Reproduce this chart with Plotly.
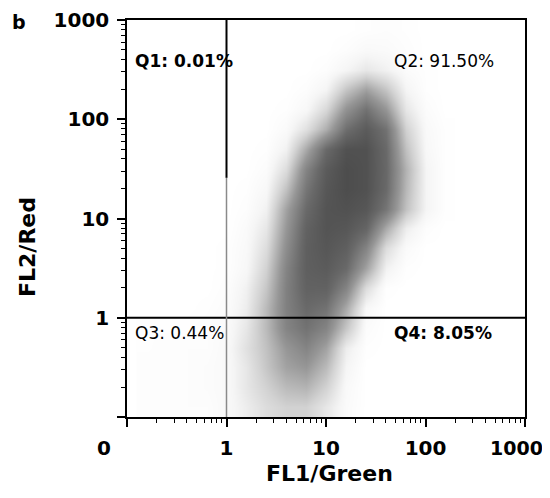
import plotly.graph_objects as go

# ---- data ----
# density grid (relative 0..1) of the event cloud, in log10 units
x_log_centers = [-0.8, -0.6, -0.4, -0.2, 0.0, 0.2, 0.4, 0.6, 0.8, 1.0, 1.2, 1.4, 1.6, 1.8, 2.0, 2.2]
y_log_centers = [-0.9, -0.7, -0.5, -0.3, -0.1, 0.1, 0.3, 0.5, 0.7, 0.9,
                 1.1, 1.3, 1.5, 1.7, 1.9, 2.1, 2.3, 2.5, 2.7, 2.9]
density = [
    # -0.8 -0.6 -0.4 -0.2  0.0   0.2   0.4   0.6   0.8   1.0   1.2   1.4   1.6   1.8   2.0   2.2
    [0.02, 0.02, 0.02, 0.02, 0.05, 0.12, 0.20, 0.25, 0.25, 0.15, 0.04, 0.00, 0.00, 0.00, 0.00, 0.00],  # -0.9
    [0.02, 0.02, 0.02, 0.03, 0.05, 0.15, 0.25, 0.35, 0.38, 0.25, 0.05, 0.00, 0.00, 0.00, 0.00, 0.00],  # -0.7
    [0.02, 0.02, 0.02, 0.03, 0.05, 0.15, 0.30, 0.45, 0.50, 0.35, 0.08, 0.00, 0.00, 0.00, 0.00, 0.00],  # -0.5
    [0.01, 0.02, 0.02, 0.02, 0.05, 0.18, 0.32, 0.50, 0.60, 0.45, 0.12, 0.01, 0.00, 0.00, 0.00, 0.00],  # -0.3
    [0.01, 0.01, 0.01, 0.02, 0.04, 0.15, 0.35, 0.60, 0.70, 0.60, 0.30, 0.03, 0.00, 0.00, 0.00, 0.00],  # -0.1
    [0.00, 0.00, 0.00, 0.01, 0.03, 0.12, 0.35, 0.62, 0.75, 0.70, 0.42, 0.06, 0.00, 0.00, 0.00, 0.00],  # 0.1
    [0.00, 0.00, 0.00, 0.00, 0.02, 0.10, 0.30, 0.62, 0.80, 0.80, 0.60, 0.20, 0.01, 0.00, 0.00, 0.00],  # 0.3
    [0.00, 0.00, 0.00, 0.00, 0.01, 0.06, 0.25, 0.60, 0.82, 0.85, 0.75, 0.45, 0.10, 0.01, 0.00, 0.00],  # 0.5
    [0.00, 0.00, 0.00, 0.00, 0.01, 0.05, 0.20, 0.55, 0.82, 0.88, 0.82, 0.60, 0.20, 0.04, 0.00, 0.00],  # 0.7
    [0.00, 0.00, 0.00, 0.00, 0.00, 0.04, 0.15, 0.50, 0.80, 0.90, 0.88, 0.78, 0.42, 0.12, 0.02, 0.00],  # 0.9
    [0.00, 0.00, 0.00, 0.00, 0.00, 0.02, 0.10, 0.45, 0.75, 0.90, 0.92, 0.88, 0.68, 0.32, 0.08, 0.01],  # 1.1
    [0.00, 0.00, 0.00, 0.00, 0.00, 0.01, 0.06, 0.32, 0.68, 0.88, 0.95, 0.92, 0.75, 0.36, 0.08, 0.01],  # 1.3
    [0.00, 0.00, 0.00, 0.00, 0.00, 0.00, 0.03, 0.20, 0.60, 0.85, 0.95, 0.92, 0.76, 0.38, 0.08, 0.01],  # 1.5
    [0.00, 0.00, 0.00, 0.00, 0.00, 0.00, 0.01, 0.10, 0.42, 0.75, 0.92, 0.92, 0.75, 0.32, 0.06, 0.01],  # 1.7
    [0.00, 0.00, 0.00, 0.00, 0.00, 0.00, 0.00, 0.04, 0.18, 0.40, 0.72, 0.85, 0.70, 0.25, 0.05, 0.01],  # 1.9
    [0.00, 0.00, 0.00, 0.00, 0.00, 0.00, 0.00, 0.01, 0.06, 0.22, 0.52, 0.70, 0.50, 0.15, 0.03, 0.00],  # 2.1
    [0.00, 0.00, 0.00, 0.00, 0.00, 0.00, 0.00, 0.00, 0.02, 0.08, 0.30, 0.45, 0.30, 0.08, 0.01, 0.00],  # 2.3
    [0.00, 0.00, 0.00, 0.00, 0.00, 0.00, 0.00, 0.00, 0.00, 0.02, 0.08, 0.15, 0.10, 0.03, 0.01, 0.00],  # 2.5
    [0.00, 0.00, 0.00, 0.00, 0.00, 0.00, 0.00, 0.00, 0.00, 0.00, 0.02, 0.05, 0.04, 0.02, 0.00, 0.00],  # 2.7
    [0.00, 0.00, 0.00, 0.00, 0.00, 0.00, 0.00, 0.00, 0.00, 0.00, 0.00, 0.01, 0.02, 0.01, 0.00, 0.00],  # 2.9
]

quadrant_labels = ["Q1: 0.01%", "Q2: 91.50%", "Q3: 0.44%", "Q4: 8.05%"]
gate_x = 1
gate_y = 1
gate_dark_from_y = 25.7   # upper part of the vertical gate line is drawn darker

tick_vals = [0.1, 1, 10, 100, 1000]
x_tick_text = ["", "1", "10", "100", ""]   # "0" and "1000" are placed as annotations below
x_edge_labels = ["0", "1000"]
y_tick_text = ["", "1", "10", "100", "1000"]
minor_vals = [m * d for d in [0.1, 1, 10, 100] for m in range(2, 10)]

x_title = "FL1/Green"
y_title = "FL2/Red"
panel_letter = "b"

FONT = "DejaVu Sans"

fig = go.Figure()

fig.add_trace(go.Heatmap(
    x=[10 ** v for v in x_log_centers],
    y=[10 ** v for v in y_log_centers],
    z=density,
    zmin=0, zmax=1,
    zsmooth="best",
    colorscale=[[0, "rgb(255,255,255)"], [0.08, "rgb(245,245,245)"], [0.25, "rgb(210,210,210)"],
                [0.5, "rgb(150,150,150)"], [0.75, "rgb(105,105,105)"], [1, "rgb(70,70,70)"]],
    showscale=False,
    hoverinfo="skip",
))

# gate lines
fig.add_trace(go.Scatter(x=[0.1, 1000], y=[gate_y, gate_y], mode="lines",
                         line=dict(color="black", width=2), showlegend=False, hoverinfo="skip"))
fig.add_trace(go.Scatter(x=[gate_x, gate_x], y=[0.1, gate_dark_from_y], mode="lines",
                         line=dict(color="#8a8a8a", width=1.5), showlegend=False, hoverinfo="skip"))
fig.add_trace(go.Scatter(x=[gate_x, gate_x], y=[gate_dark_from_y, 1000], mode="lines",
                         line=dict(color="black", width=2), showlegend=False, hoverinfo="skip"))

axis_common = dict(
    type="log", range=[-1, 3], automargin=False,
    showgrid=False, zeroline=False,
    showline=True, linecolor="black", linewidth=1.5, mirror=True,
    ticks="outside", ticklen=8, tickwidth=1.5, tickcolor="black",
    tickmode="array", tickvals=tick_vals,
    tickfont=dict(family=FONT, size=20, color="black", weight="bold"),
    minor=dict(tickmode="array", tickvals=minor_vals, ticks="outside",
               ticklen=4, tickwidth=1, tickcolor="black"),
    ticklabeloverflow="allow",
)

fig.update_xaxes(**axis_common, ticktext=x_tick_text, ticklabelstandoff=4)
fig.update_yaxes(**axis_common, ticktext=y_tick_text, ticklabelstandoff=4)

# the page places the figure 8 px in from the window's top-left corner
OFF = 8
W, H = 550 - OFF, 498 - OFF
L, R, T, B = 127 - OFF, 25, 20 - OFF, 81
pw, ph = W - L - R, H - T - B

def px_to_paper(px, py):
    """window pixel -> paper coordinates"""
    return (px - OFF - L) / pw, (H - B - (py - OFF)) / ph

annotations = []
q_pos = [(133, 61, True), (392, 61, False), (133, 333, False), (392, 333, True)]
for text, (px, py, bold) in zip(quadrant_labels, q_pos):
    xp, yp = px_to_paper(px, py)
    annotations.append(dict(x=xp, y=yp, xref="paper", yref="paper", text=text,
                            showarrow=False, xanchor="left", yanchor="middle",
                            font=dict(family=FONT, size=17, color="black",
                                      weight="bold" if bold else "normal")))

for text, (px, py, size) in zip(x_edge_labels, [(104, 448, 20), (516, 448, 19)]):
    xp, yp = px_to_paper(px, py)
    annotations.append(dict(x=xp, y=yp, xref="paper", yref="paper", text=text, showarrow=False,
                            xanchor="center", yanchor="middle",
                            font=dict(family=FONT, size=size, color="black", weight="bold")))
xp, yp = px_to_paper(329, 473)
annotations.append(dict(x=xp, y=yp, xref="paper", yref="paper", text=x_title, showarrow=False,
                        xanchor="center", yanchor="middle",
                        font=dict(family=FONT, size=22, color="black", weight="bold")))
xp, yp = px_to_paper(27, 247)
annotations.append(dict(x=xp, y=yp, xref="paper", yref="paper", text=y_title, showarrow=False,
                        textangle=-90, xanchor="center", yanchor="middle",
                        font=dict(family=FONT, size=22, color="black", weight="bold")))
xp, yp = px_to_paper(19, 22)
annotations.append(dict(x=xp, y=yp, xref="paper", yref="paper", text=panel_letter, showarrow=False,
                        xanchor="center", yanchor="middle",
                        font=dict(family=FONT, size=19, color="black", weight="bold")))

fig.update_layout(
    width=W, height=H,
    margin=dict(l=L, r=R, t=T, b=B),
    paper_bgcolor="white", plot_bgcolor="white",
    showlegend=False,
    annotations=annotations,
)

fig.write_html("out.html")
